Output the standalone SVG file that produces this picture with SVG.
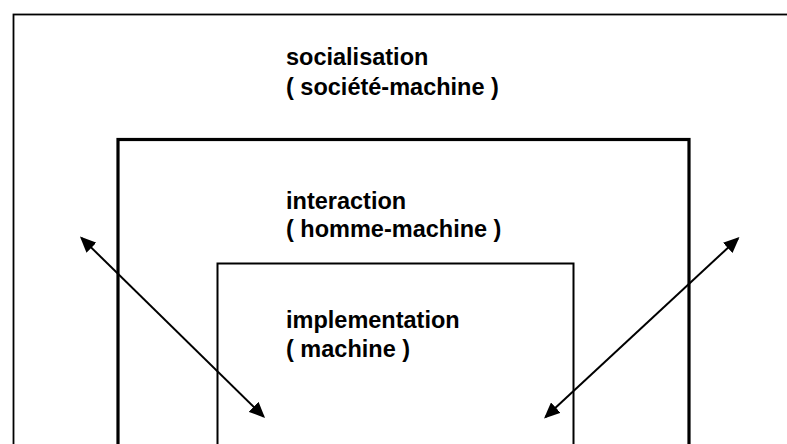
<svg xmlns="http://www.w3.org/2000/svg" width="787" height="444" viewBox="0 0 787 444">
  <style>
    .lbl { font-family: "Liberation Sans", Arial, sans-serif; font-weight: bold; font-size: 23.5px; fill: #000; }
    .box { fill: none; stroke: #000; }
    .arr { stroke: #000; stroke-width: 2; fill: none; marker-start: url(#head); marker-end: url(#head); }
  </style>
  <defs>
    <marker id="head" viewBox="0 0 16 14" refX="14" refY="7" markerWidth="16" markerHeight="14" markerUnits="userSpaceOnUse" orient="auto-start-reverse">
      <path d="M0,0 L16,7 L0,14 z" fill="#000"/>
    </marker>
  </defs>
  <rect width="787" height="444" fill="#fff"/>
  <g id="socialisation">
    <rect class="box" x="13.5" y="14.5" width="790" height="450" stroke-width="1.8"/>
    <text class="lbl" x="286" y="65">socialisation</text>
    <text class="lbl" x="286" y="95">( société-machine )</text>
  </g>
  <g id="interaction">
    <rect class="box" x="118" y="139.5" width="571" height="320" stroke-width="3.2"/>
    <text class="lbl" x="286" y="209">interaction</text>
    <text class="lbl" x="286" y="237">( homme-machine )</text>
  </g>
  <g id="implementation">
    <rect class="box" x="217.5" y="263.5" width="356" height="200" stroke-width="2"/>
    <text class="lbl" x="286" y="328">implementation</text>
    <text class="lbl" x="286" y="357">( machine )</text>
  </g>
  <g id="connectors">
    <line class="arr" x1="81.4" y1="237.9" x2="263.6" y2="416.6"/>
    <line class="arr" x1="738.0" y1="238.4" x2="545.5" y2="417.1"/>
  </g>
</svg>
